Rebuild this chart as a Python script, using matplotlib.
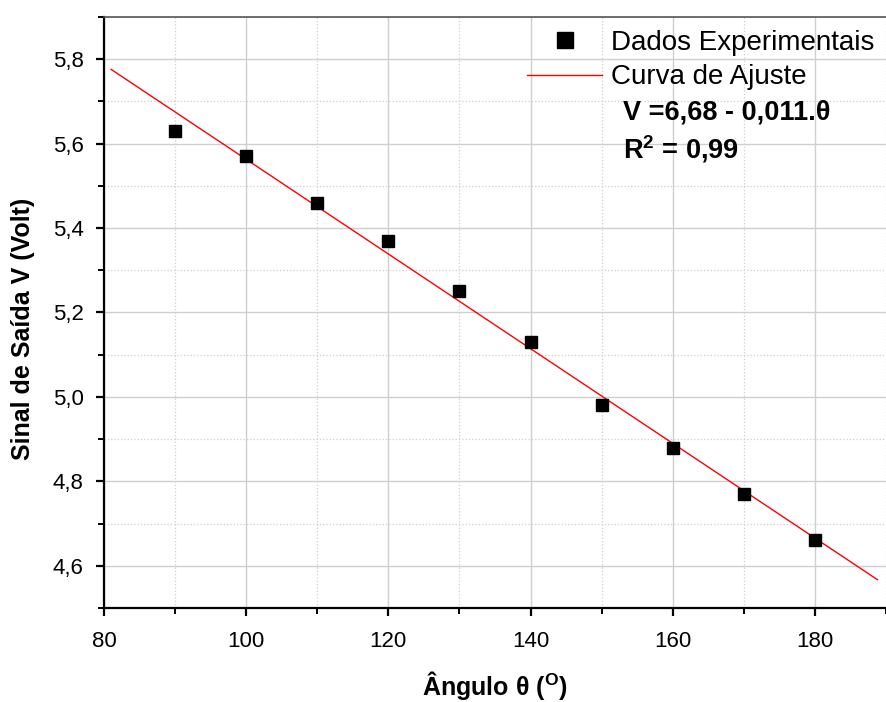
import matplotlib
matplotlib.use("Agg")
import matplotlib.pyplot as plt
from matplotlib.ticker import MultipleLocator, FuncFormatter

plt.rcParams['font.family'] = ['Liberation Sans', 'DejaVu Sans']
plt.rcParams['mathtext.fontset'] = 'custom'
plt.rcParams['mathtext.rm'] = 'Liberation Sans'
plt.rcParams['mathtext.bf'] = 'Liberation Sans:bold'

# dados
angulo = [90, 100, 110, 120, 130, 140, 150, 160, 170, 180]
sinal = [5.63, 5.57, 5.46, 5.37, 5.25, 5.13, 4.98, 4.88, 4.77, 4.66]

# curva de ajuste (extremos)
ajuste_x = [81.0, 188.8]
ajuste_y = [5.776, 4.567]

fig = plt.figure(figsize=(8.87, 7.02), dpi=100)
ax = fig.add_axes([0.1172, 0.1339, 0.8817, 0.8419])

ax.plot(ajuste_x, ajuste_y, color='red', lw=1, label='Curva de Ajuste', zorder=2)
ax.plot(angulo, sinal, 's', color='black', ms=8, label='Dados Experimentais', zorder=3)

ax.set_xlim(80, 190)
ax.set_ylim(4.5, 5.9)

ax.xaxis.set_major_locator(MultipleLocator(20))
ax.xaxis.set_minor_locator(MultipleLocator(10))
ax.yaxis.set_major_locator(MultipleLocator(0.2))
ax.yaxis.set_minor_locator(MultipleLocator(0.1))
ax.yaxis.set_major_formatter(FuncFormatter(lambda v, p: f"{v:.1f}".replace('.', ',')))
ax.xaxis.set_major_formatter(FuncFormatter(lambda v, p: f"{v:.0f}"))

ax.grid(which='major', color='#cfcfcf', lw=1, ls='-', zorder=0)
ax.grid(which='minor', color='#cfcfcf', lw=0.9, ls=':', zorder=0)
ax.set_axisbelow(True)

ax.spines['right'].set_visible(False)
ax.spines['top'].set_color('#555555')
ax.spines['top'].set_linewidth(1.2)
ax.spines['left'].set_linewidth(1.6)
ax.spines['bottom'].set_linewidth(1.6)

ax.tick_params(which='major', direction='out', length=5.5, width=1.6, labelsize=16, pad=9)
ax.tick_params(which='minor', direction='out', length=4, width=1.4)
ax.tick_params(axis='x', which='major', pad=11)

ax.set_xlabel('Ângulo θ ($^{\\mathbf{O}}$)', fontsize=18, fontweight='bold')
ax.set_ylabel('Sinal de Saída V (Volt)', fontsize=18, fontweight='bold')
ax.xaxis.set_label_coords(0.5, -0.103)
ax.yaxis.set_label_coords(-0.088, 0.472)

handles, labels = ax.get_legend_handles_labels()
leg = ax.legend(handles[::-1], labels[::-1], loc='upper left', bbox_to_anchor=(0.541, 0.978),
                frameon=False, fontsize=20, handlelength=2.7, handletextpad=0.32,
                labelspacing=0.3, borderpad=0, borderaxespad=0, markerscale=1.36)

ax.text(0.664, 0.827, 'V =6,68 - 0,011.θ', transform=ax.transAxes, fontsize=19.5,
        fontweight='bold', va='baseline', ha='left')
ax.text(0.664, 0.761, 'R$^{\\mathbf{2}}$ = 0,99', transform=ax.transAxes, fontsize=19.5,
        fontweight='bold', va='baseline', ha='left')

fig.savefig('out.png', dpi=100)
